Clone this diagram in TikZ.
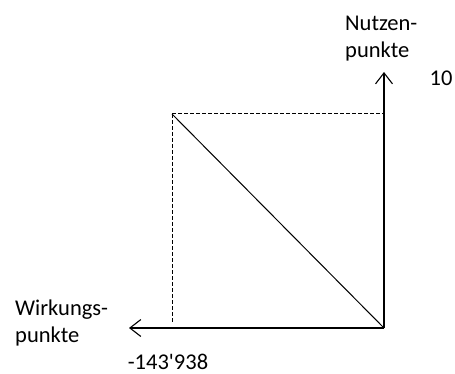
\documentclass[tikz,border=0pt]{standalone}
\usepackage{fontspec}
\setmainfont{Carlito}[Ligatures=TeXOff]
\usepackage{tikz}
\usetikzlibrary{arrows.meta,calc,positioning}

\begin{document}
\begin{tikzpicture}[
        x=1pt, y=-1pt,
        axis/.style={-{Straight Barb[length=11pt,width=17pt,line width=1.1pt]}, line width=1.1pt},
        guide/.style={dash pattern=on 4pt off 2pt, line width=1pt},
        lbl/.style={align=left, inner sep=0pt, font=\fontsize{22.5}{26.5}\selectfont}
    ]
        \useasboundingbox (0,0) rectangle (455,374);
        \coordinate (origin) at (384,328);
        \coordinate (xend) at (129,328);
        \coordinate (yend) at (384,72);
        \coordinate (corner) at (172,114);
        \coordinate (top) at (384,114);
        \coordinate (foot) at (172,322);
        \node[lbl, anchor=north west] (ylabel) at (345,16) {Nutzen-\\punkte};
        \node[lbl] (ymax) at (441,78) {10};
        \node[lbl, anchor=north west] (xlabel) at (15,300) {Wirkungs-\\punkte};
        \node[lbl] (xmin) at (168,362) {-143'938};
        \draw[guide] (corner) -- (top);
        \draw[guide] (corner) -- (foot);
        \draw[line width=1pt] (corner) -- (origin);
        \draw[axis] (origin) -- (xend);
        \draw[axis] (origin) -- (yend);
    \end{tikzpicture}
\end{document}
